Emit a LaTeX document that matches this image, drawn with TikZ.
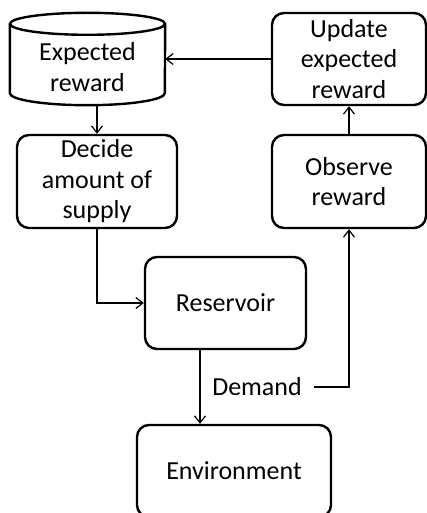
\documentclass[tikz,border=0pt]{standalone}
\usepackage{fontspec}
\setmainfont{Carlito}
\usetikzlibrary{arrows.meta}
\tikzset{
  box/.style={draw=black, line width=2.4pt, rounded corners=12pt, align=center,
    inner sep=0pt, font=\fontsize{26}{30.5}\selectfont},
  frame/.style={inner sep=0pt},
  lbl/.style={align=center, inner sep=0pt, font=\fontsize{26}{30.5}\selectfont},
  cylline/.style={draw=black, line width=2.4pt},
  arr/.style={draw=black, line width=1.2pt, -{Straight Barb[length=7pt,width=11pt]}},
  plain/.style={draw=black, line width=1.2pt}
}
\begin{document}
\begin{tikzpicture}[x=1pt,y=1pt]
  \useasboundingbox (0,0) rectangle (426,-513);

  % expected reward store
  \node[frame, minimum width=155pt, minimum height=92pt] (cyl) at (87.5,-59) {};
  \draw[cylline] ([yshift=-11pt]cyl.north west) -- ([yshift=12pt]cyl.south west)
    arc[start angle=180, end angle=360, x radius=77.5, y radius=12]
    -- ([yshift=-11pt]cyl.north east);
  \draw[cylline] ([yshift=-11pt]cyl.north) ellipse [x radius=77.5, y radius=11];
  \node[lbl] (cyltxt) at (87.5,-67) {Expected\\reward};

  \node[box, minimum width=160pt, minimum height=93pt] (dec) at (97,-181.5) {Decide\\amount of\\supply};
  \node[box, minimum width=154pt, minimum height=92pt] (upd) at (349,-59) {Update\\expected\\reward};
  \node[box, minimum width=154pt, minimum height=93pt] (obs) at (349,-181.5) {Observe\\reward};
  \node[box, minimum width=161pt, minimum height=92pt] (res) at (225.5,-303) {Reservoir};
  \node[box, minimum width=194pt, minimum height=92pt] (env) at (234,-471) {Environment};
  \node[lbl, inner xsep=12pt] (dem) at (257,-387) {Demand};

  \coordinate (out) at ([xshift=-25.5pt]res.south);

  \draw[arr] (upd.west) -- (cyl.east);
  \draw[arr] (dec.north |- cyl.south) -- (dec.north);
  \draw[arr] (dec.south) |- (res.west);
  \draw[arr] (out) -- (out |- env.north);
  \draw[arr] (dem.east) -| (obs.south);
  \draw[arr] (obs.north) -- (upd.south);
\end{tikzpicture}
\end{document}
